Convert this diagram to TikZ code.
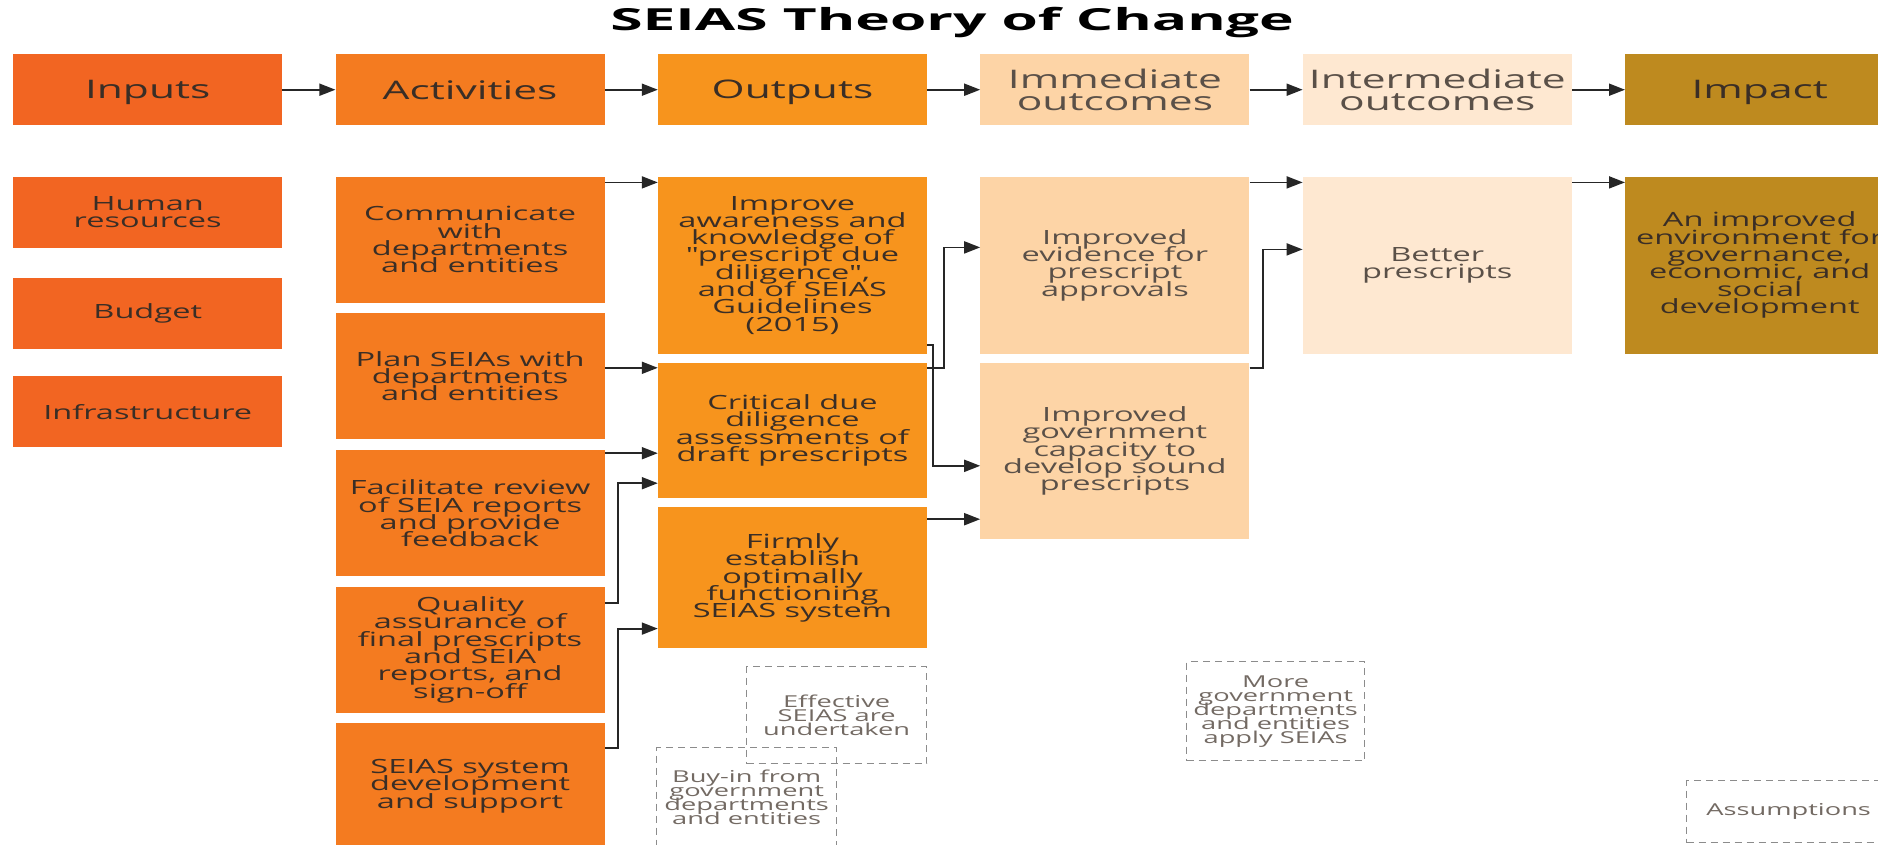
\documentclass[tikz,border=0pt]{standalone}
\usepackage{fontspec}
\setmainfont{Open Sans}
\newfontfamily\boxfont{Open Sans}[FakeStretch=1.66]
\newfontfamily\titlefont{Open Sans}[FakeStretch=1.93]
\usepackage{xcolor}
\usepackage{tikz}
\usetikzlibrary{arrows.meta, positioning}

\newcommand\tightlines{\lineskiplimit=-100pt\relax}

\definecolor{inputcol}{HTML}{F26522}
\definecolor{actcol}{HTML}{F47B20}
\definecolor{outcol}{HTML}{F7941D}
\definecolor{immcol}{HTML}{FDD4A6}
\definecolor{intcol}{HTML}{FEE8D1}
\definecolor{impcol}{HTML}{BE8A1F}
\definecolor{boxtext}{HTML}{3A2E26}
\definecolor{softtext}{HTML}{5A5048}
\definecolor{assumecol}{HTML}{8C8C8C}

\begin{document}
\begin{tikzpicture}[
    x=1pt, y=1pt,
    node distance=53pt,
    box/.style={rectangle, inner sep=2pt, minimum width=269pt, align=center, text=boxtext, font=\boxfont\fontsize{19.6}{17.3}\selectfont\tightlines},
    head/.style={box, minimum height=71pt, font=\boxfont\fontsize{25.6}{22}\selectfont\tightlines},
    onehead/.style={head, text depth=0pt},
    inputbox/.style={fill=inputcol},
    actbox/.style={fill=actcol},
    outbox/.style={fill=outcol},
    immbox/.style={fill=immcol, text=softtext},
    intbox/.style={fill=intcol, text=softtext},
    impbox/.style={fill=impcol},
    assume/.style={rectangle, draw=assumecol, dash pattern=on 7pt off 5pt, line width=1.3pt, minimum width=180pt, minimum height=97pt, inner sep=2pt, align=center, text=softtext!85, font=\boxfont\fontsize{16.4}{14}\selectfont\tightlines},
    arrow/.style={->, >={Triangle[length=16pt, width=12pt]}, line width=1.8pt, black!85}
]
\path[use as bounding box, fill=white] (0,0) rectangle (1878,-844);

% Title
\node[font=\titlefont\bfseries\fontsize{30.4}{34}\selectfont] (title) at (952,-23) {SEIAS Theory of Change};

% Header row
\node[onehead, inputbox, anchor=north west] (inputs) at (13,-54) {Inputs};
\node[onehead, actbox, right=of inputs] (acts) {Activities};
\node[onehead, outbox, right=of acts] (outs) {Outputs};
\node[head, immbox, right=of outs] (imm) {Immediate\\outcomes};
\node[head, intbox, right=of imm] (inter) {Intermediate\\outcomes};
\node[onehead, impbox, right=of inter] (impact) {Impact};

% Inputs
\node[box, inputbox, minimum height=71pt, below=51pt of inputs] (hr) {Human\\resources};
\node[box, inputbox, minimum height=71pt, below=30pt of hr] (budget) {Budget};
\node[box, inputbox, minimum height=71pt, below=27pt of budget] (infra) {Infrastructure};

% Activities
\node[box, actbox, minimum height=126pt, below=51pt of acts] (comm) {Communicate\\with\\departments\\and entities};
\node[box, actbox, minimum height=126pt, below=10pt of comm] (plan) {Plan SEIAs with\\departments\\and entities};
\node[box, actbox, minimum height=126pt, below=11pt of plan] (facil) {Facilitate review\\of SEIA reports\\and provide\\feedback};
\node[box, actbox, minimum height=126pt, below=10pt of facil] (qual) {Quality\\assurance of\\final prescripts\\and SEIA\\reports, and\\sign-off};
\node[box, actbox, minimum height=126pt, below=10pt of qual] (dev) {SEIAS system\\development\\and support};

% Outputs
\node[box, outbox, minimum height=177pt, below=51pt of outs] (aware) {Improve\\awareness and\\knowledge of\\"prescript due\\diligence",\\and of SEIAS\\Guidelines\\(2015)};
\node[box, outbox, minimum height=135pt, below=9pt of aware] (crit) {Critical due\\diligence\\assessments of\\draft prescripts};
\node[box, outbox, minimum height=141pt, below=9pt of crit] (firm) {Firmly\\establish\\optimally\\functioning\\SEIAS system};

% Outcomes and impact
\node[box, immbox, minimum height=177pt, below=51pt of imm] (evid) {Improved\\evidence for\\prescript\\approvals};
\node[box, immbox, minimum height=176pt, below=9pt of evid] (cap) {Improved\\government\\capacity to\\develop sound\\prescripts};
\node[box, intbox, minimum height=177pt, below=51pt of inter] (better) {Better\\prescripts};
\node[box, impbox, minimum height=177pt, below=51pt of impact] (env) {An improved\\environment for\\governance,\\economic, and\\social\\development};

% Assumptions
\node[assume, anchor=north west] (effective) at (746,-666) {Effective\\SEIAS are\\undertaken};
\node[assume, anchor=north west, minimum height=100pt] (buyin) at (656,-747) {Buy-in from\\government\\departments\\and entities};
\node[assume, anchor=north west, minimum width=178pt, minimum height=99pt] (more) at (1186,-661) {More\\government\\departments\\and entities\\apply SEIAs};
\node[assume, anchor=north west, minimum width=204pt, minimum height=62pt] (assumptions) at (1686,-780) {Assumptions};

% Header arrows
\foreach \a/\b in {inputs/acts, acts/outs, outs/imm, imm/inter, inter/impact}
    \draw[arrow] (\a) -- (\b);

% Activities to outputs
\draw[arrow] ([yshift=-6pt]comm.north east) -- ([yshift=-6pt]aware.north west);
\draw[arrow] ([yshift=-5pt]plan.east |- crit.north) -- ([yshift=-5pt]crit.north west);
\draw[arrow] ([yshift=-3pt]facil.north east) -- ([yshift=-3pt]facil.north east -| crit.west);
\draw[arrow] ([yshift=-16pt]qual.north east) -- ++(13,0) |- ([yshift=15pt]crit.south west);
\draw[arrow] ([yshift=-25pt]dev.north east) -- ++(13,0) |- ([yshift=20pt]firm.south west);

% Outputs to immediate outcomes
\draw[arrow] ([yshift=9pt]aware.south east) -- ++(6,0) |- ([yshift=-103pt]cap.north west);
\draw[arrow] ([yshift=-5pt]crit.north east) -- ++(17,0) |- ([yshift=-71pt]evid.north west);
\draw[arrow] ([yshift=-12pt]firm.north east) -- ([yshift=-12pt]firm.north east -| cap.west);

% Immediate to intermediate to impact
\draw[arrow] ([yshift=-6pt]evid.north east) -- ([yshift=-6pt]better.north west);
\draw[arrow] ([yshift=-5pt]cap.north east) -- ++(13,0) |- ([yshift=-73pt]better.north west);
\draw[arrow] ([yshift=-6pt]better.north east) -- ([yshift=-6pt]env.north west);

\end{tikzpicture}
\end{document}
